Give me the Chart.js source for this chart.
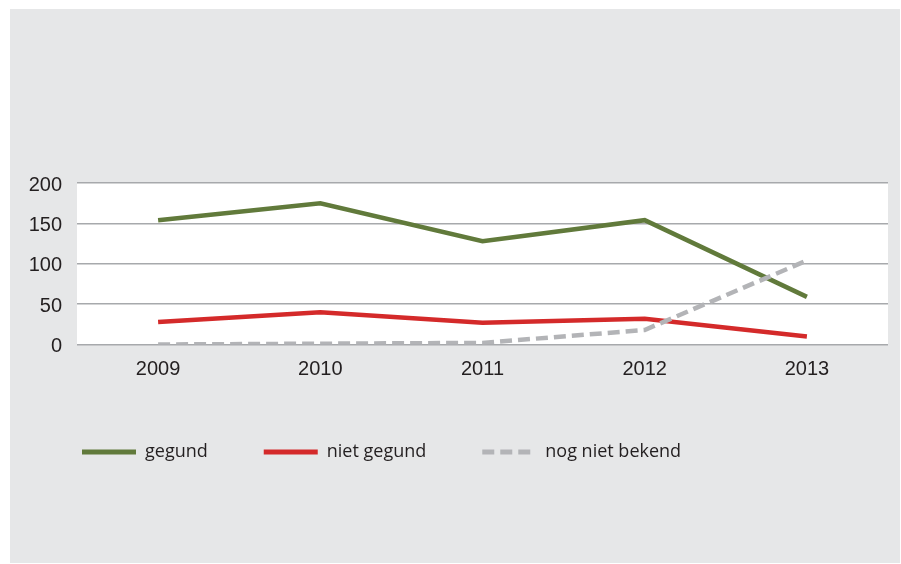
<!DOCTYPE html>
<html>
<head>
<meta charset="utf-8">
<script src="https://cdn.jsdelivr.net/npm/chart.js@4"></script>
<style>
  html, body { margin: 0; padding: 0; background: #fff; }
  #wrap { position: absolute; left: 10px; top: 9px; width: 890px; height: 554px; background: #e6e7e8; }
  canvas { display: block; }
</style>
</head>
<body>
<div id="wrap"><canvas id="chart" width="890" height="554"></canvas></div>
<script>
const years = ['2009', '2010', '2011', '2012', '2013'];
const gegund = [154, 175, 128, 154, 59];
const nietGegund = [28, 40, 27, 32, 10];
const nogNietBekend = [0, 1, 2, 18, 104];
const yTicks = [0, 50, 100, 150, 200];

const textColor = '#231f20';
const gridColor = '#a7a9ac';
const lineWidth = 4.5;

// white plot area on the grey panel
const plotBackground = {
  id: 'plotBackground',
  beforeDraw(chart) {
    const { ctx, chartArea } = chart;
    ctx.save();
    ctx.fillStyle = '#ffffff';
    ctx.fillRect(chartArea.left, chartArea.top, chartArea.right - chartArea.left, chartArea.bottom - chartArea.top);
    ctx.restore();
  }
};

new Chart(document.getElementById('chart'), {
  type: 'line',
  data: {
    labels: years,
    datasets: [
      {
        label: 'gegund',
        data: gegund,
        borderColor: '#617a3b',
        backgroundColor: '#617a3b',
        order: 2
      },
      {
        label: 'niet gegund',
        data: nietGegund,
        borderColor: '#d42a2a',
        backgroundColor: '#d42a2a',
        order: 1
      },
      {
        label: 'nog niet bekend',
        data: nogNietBekend,
        borderColor: '#b3b4b7',
        backgroundColor: '#b3b4b7',
        borderDash: [12, 6],
        order: 0
      }
    ]
  },
  options: {
    responsive: false,
    animation: false,
    elements: {
      line: { borderWidth: lineWidth, tension: 0, borderCapStyle: 'butt', fill: false },
      point: { radius: 0, hoverRadius: 0 }
    },
    layout: { padding: { top: 174, right: 12, bottom: 92, left: 16 } },
    plugins: {
      tooltip: { enabled: false },
      legend: {
        position: 'bottom',
        align: 'start',
        labels: {
          usePointStyle: true,
          pointStyle: 'line',
          pointStyleWidth: 54,
          padding: 56,
          color: textColor,
          font: { family: '"Open Sans", sans-serif', size: 18 },
          generateLabels: (chart) => chart.data.datasets.map((ds, i) => ({
            text: ds.label,
            datasetIndex: i,
            fillStyle: ds.borderColor,
            strokeStyle: ds.borderColor,
            lineWidth: 5,
            lineDash: ds.borderDash || [],
            lineCap: 'butt',
            pointStyle: 'line',
            fontColor: textColor,
            hidden: false
          }))
        }
      }
    },
    scales: {
      x: {
        offset: true,
        grid: { display: false, drawTicks: false },
        border: { display: false },
        ticks: {
          color: textColor,
          padding: 13,
          maxRotation: 0,
          font: { family: '"Liberation Sans", Arial, sans-serif', size: 20 }
        },
        afterFit: (scale) => { scale.height = 42.5; }
      },
      y: {
        min: 0,
        max: 200,
        afterBuildTicks: (scale) => { scale.ticks = yTicks.map((v) => ({ value: v })); },
        grid: { color: gridColor, lineWidth: 1.5, drawTicks: false },
        border: { display: false },
        ticks: {
          color: textColor,
          padding: 15,
          labelOffset: 2,
          font: { family: '"Liberation Sans", Arial, sans-serif', size: 20 }
        },
        afterFit: (scale) => { scale.width = 51; }
      }
    }
  },
  plugins: [plotBackground]
});
</script>
</body>
</html>
